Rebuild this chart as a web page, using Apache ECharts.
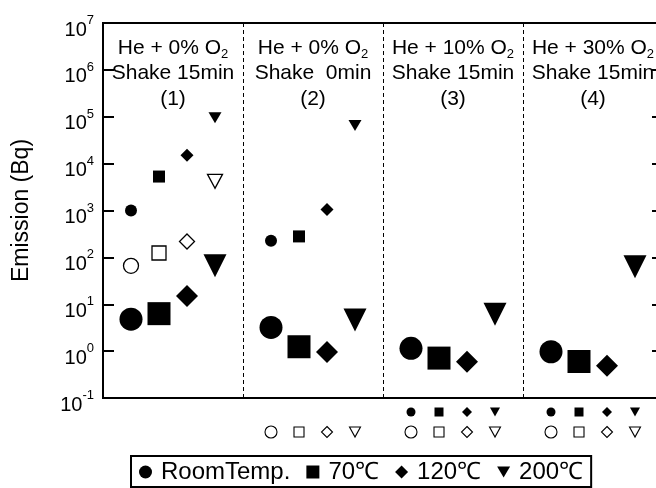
<!DOCTYPE html>
<html>
<head>
<meta charset="utf-8">
<script src="https://cdn.jsdelivr.net/npm/echarts@6/dist/echarts.min.js"></script>
<style>
  html, body { margin: 0; padding: 0; background: #fff; }
  #chart { width: 656px; height: 488px; }
</style>
</head>
<body>
<div id="chart"></div>
<script>
// ---- data -------------------------------------------------------------
const temps = ['RoomTemp.', '70℃', '120℃', '200℃'];
const gasMix = ['He + 0% O', 'He + 0% O', 'He + 10% O', 'He + 30% O'];
const shakeTime = ['Shake 15min', 'Shake  0min', 'Shake 15min', 'Shake 15min'];
const runLabels = ['(1)', '(2)', '(3)', '(4)'];
const yTicks = [0.1, 1, 10, 100, 1e3, 1e4, 1e5, 1e6, 1e7];

// Emission (Bq) for runs (1)-(4); null = no point in that run
const largeRT = [4.8, 3.2, 1.15, 0.97];
const large70 = [6.3, 1.24, 0.71, 0.60];
const large120 = [15, 0.96, 0.59, 0.49];
const large200 = [66, 4.6, 6.1, 63];

const smallRT = [1000, 225, null, null];
const small70 = [5300, 280, null, null];
const small120 = [15000, 1050, null, null];
const small200 = [95000, 65000, null, null];

const openRT = [66, null, null, null];
const open70 = [124, null, null, null];
const open120 = [218, null, null, null];
const open200 = [4200, null, null, null];

// runs whose small / open values lie below the axis range
const belowFilled = [false, false, true, true];
const belowOpen = [false, true, true, true];

// ---- layout helpers ---------------------------------------------------
const FONT = "'Liberation Sans', Arial, Helvetica, sans-serif";
const SLOTS_PER_RUN = 5;           // 4 temperatures + 1 gap slot
const shapes = ['circle', 'rect', 'diamond', 'triangle'];
const rotations = [0, 0, 0, 180];
const largeSize = [23, 23, 22, [23, 23]];
const smallSize = [12, 12, 13, [13, 11]];
const openSize = [15, 14, 15, [15, 14]];
const rowFilledSize = [9, 9, 10, [10, 9]];
const rowOpenSize = [12, 10, 11, [11, 10]];

const xOf = (run, t) => run * SLOTS_PER_RUN + t;
const points = (values, t) =>
  values.map((v, r) => (v == null ? null : [xOf(r, t), v])).filter(Boolean);
const rowPoints = (flags, t, level) =>
  flags.map((f, r) => (f ? [xOf(r, t), level] : null)).filter(Boolean);

const largeSets = [largeRT, large70, large120, large200];
const smallSets = [smallRT, small70, small120, small200];
const openSets = [openRT, open70, open120, open200];

const series = [];
for (let t = 0; t < 4; t++) {
  series.push({
    name: temps[t], type: 'scatter', xAxisIndex: 0, yAxisIndex: 0,
    symbol: shapes[t], symbolRotate: rotations[t], symbolSize: largeSize[t],
    itemStyle: { color: '#000', opacity: 1 },
    data: points(largeSets[t], t), z: 5
  });
  series.push({
    name: temps[t] + ' small', type: 'scatter', xAxisIndex: 0, yAxisIndex: 0,
    symbol: shapes[t], symbolRotate: rotations[t], symbolSize: smallSize[t],
    itemStyle: { color: '#000', opacity: 1 },
    data: points(smallSets[t], t), z: 5
  });
  series.push({
    name: temps[t] + ' open', type: 'scatter', xAxisIndex: 0, yAxisIndex: 0,
    symbol: shapes[t], symbolRotate: rotations[t], symbolSize: openSize[t],
    itemStyle: { color: '#fff', borderColor: '#000', borderWidth: 1.3, opacity: 1 },
    data: points(openSets[t], t), z: 5
  });
  series.push({
    name: temps[t] + ' below', type: 'scatter', xAxisIndex: 1, yAxisIndex: 2,
    symbol: shapes[t], symbolRotate: rotations[t], symbolSize: rowFilledSize[t],
    itemStyle: { color: '#000', opacity: 1 },
    data: rowPoints(belowFilled, t, 1)
  });
  series.push({
    name: temps[t] + ' below open', type: 'scatter', xAxisIndex: 1, yAxisIndex: 2,
    symbol: shapes[t], symbolRotate: rotations[t], symbolSize: rowOpenSize[t],
    itemStyle: { color: '#fff', borderColor: '#000', borderWidth: 1.1, opacity: 1 },
    data: rowPoints(belowOpen, t, 0)
  });
}

// dashed separators between runs
series[0].markLine = {
  silent: true, symbol: 'none', animation: false,
  label: { show: false },
  lineStyle: { color: '#000', width: 1, type: [4, 3] },
  data: [1, 2, 3].map(r => ({ xAxis: r * SLOTS_PER_RUN - 1 }))
};

const decadeLabel = v => {
  const e = Math.round(Math.log10(v));
  return '{b|10}{e|' + e + '}';
};

const xRange = { min: -1, max: 4 * SLOTS_PER_RUN - 1 };

const option = {
  animation: false,
  backgroundColor: '#fff',
  textStyle: { fontFamily: FONT, color: '#000' },
  grid: [
    { left: 103, top: 23, width: 560, height: 375, outerBoundsMode: 'none', containLabel: false,
      show: true, borderColor: '#000', borderWidth: 2, backgroundColor: 'transparent' },
    { left: 103, top: 412, width: 560, height: 20, outerBoundsMode: 'none', containLabel: false }
  ],
  xAxis: [
    { type: 'value', gridIndex: 0, ...xRange,
      axisLine: { show: true, onZero: false, lineStyle: { color: '#000', width: 2 } },
      axisTick: { show: false }, axisLabel: { show: false }, splitLine: { show: false } },
    { type: 'value', gridIndex: 1, ...xRange, show: false }
  ],
  yAxis: [
    { type: 'log', gridIndex: 0, logBase: 10,
      min: yTicks[0], max: yTicks[yTicks.length - 1],
      name: 'Emission (Bq)', nameLocation: 'middle', nameGap: 70,
      nameTextStyle: { fontSize: 23, color: '#000', fontFamily: FONT },
      axisLine: { show: true, onZero: false, lineStyle: { color: '#000', width: 2 } },
      axisTick: { show: true, inside: true, length: 11, lineStyle: { color: '#000', width: 2 } },
      splitLine: { show: false }, minorTick: { show: false },
      axisLabel: {
        formatter: decadeLabel, margin: 9, padding: [8, 0, 0, 0],
        rich: {
          b: { fontSize: 20, fontFamily: FONT, color: '#000', verticalAlign: 'bottom', lineHeight: 26 },
          e: { fontSize: 13, fontFamily: FONT, color: '#000', verticalAlign: 'top' }
        }
      } },
    { type: 'log', gridIndex: 0, logBase: 10, position: 'right',
      min: yTicks[0], max: yTicks[yTicks.length - 1],
      axisLine: { show: true, onZero: false, lineStyle: { color: '#000', width: 2 } },
      axisTick: { show: true, inside: true, length: 11, lineStyle: { color: '#000', width: 2 } },
      axisLabel: { show: false }, splitLine: { show: false } },
    { type: 'value', gridIndex: 1, min: 0, max: 1, show: false }
  ],
  legend: {
    left: 131, top: 456,
    padding: [4, 8, 3, 8], itemGap: 16, itemWidth: 13, itemHeight: 13,
    borderColor: '#000', borderWidth: 2, backgroundColor: '#fff',
    selectedMode: false,
    textStyle: { fontSize: 24, color: '#000', fontFamily: FONT, padding: [0, 0, 0, 4] },
    data: [
      { name: temps[0], icon: 'circle' },
      { name: temps[1], icon: 'rect' },
      { name: temps[2], icon: 'diamond' },
      { name: temps[3], icon: 'path://M0,0L20,0L10,17Z' }
    ]
  },
  series
};

const chart = echarts.init(document.getElementById('chart'), null, { renderer: 'canvas' });
chart.setOption(option);

// run headers, centred over each run's four temperature slots
const headers = runLabels.map((lab, r) => {
  const cx = chart.convertToPixel({ xAxisIndex: 0 }, xOf(r, 1.5));
  return {
    type: 'text', silent: true, z: 10,
    style: {
      x: cx, y: 35, align: 'center', textAlign: 'center', verticalAlign: 'top',
      text: '{g|' + gasMix[r] + '}{s|2}\n{g|' + shakeTime[r] + '}\n{g|' + lab + '}',
      rich: {
        g: { fontSize: 21, fontFamily: FONT, fill: '#000', color: '#000', lineHeight: 25.5 },
        s: { fontSize: 13, fontFamily: FONT, fill: '#000', color: '#000',
             verticalAlign: 'bottom', lineHeight: 25.5 }
      }
    }
  };
});
chart.setOption({ graphic: headers });
</script>
</body>
</html>
